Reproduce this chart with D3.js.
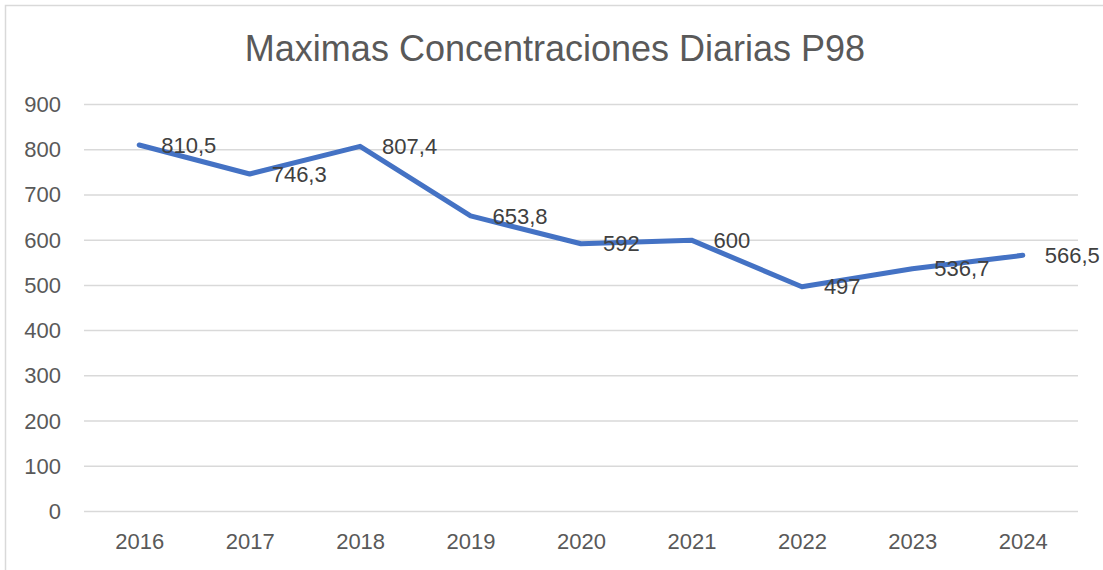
<!DOCTYPE html>
<html>
<head>
<meta charset="utf-8">
<script src="https://cdn.jsdelivr.net/npm/d3@7"></script>
<style>
  body { margin: 0; background: #fff; }
  text { font-family: "Liberation Sans", Arial, sans-serif; }
</style>
</head>
<body>
<div id="chart"></div>
<script>
// Data
var years = ["2016", "2017", "2018", "2019", "2020", "2021", "2022", "2023", "2024"];
var values = [810.5, 746.3, 807.4, 653.8, 592, 600, 497, 536.7, 566.5];
var yTicks = [0, 100, 200, 300, 400, 500, 600, 700, 800, 900];

var W = 1103, H = 570;
var margin = {top: 104.5, right: 25, bottom: 58.5, left: 84},
    width = W - margin.left - margin.right,
    height = H - margin.top - margin.bottom;

var svg = d3.select("#chart").append("svg")
    .attr("width", W)
    .attr("height", H);

// chart border
svg.append("rect")
    .attr("x", 5.5).attr("y", 5.5)
    .attr("width", W).attr("height", H)
    .attr("fill", "none")
    .attr("stroke", "#d9d9d9")
    .attr("stroke-width", 1.5);

// title
svg.append("text")
    .attr("x", 555).attr("y", 61)
    .attr("text-anchor", "middle")
    .style("font-size", "36px")
    .style("fill", "#595959")
    .text("Maximas Concentraciones Diarias P98");

var g = svg.append("g")
    .attr("transform", "translate(" + margin.left + "," + margin.top + ")");

var x = d3.scalePoint()
    .domain(years)
    .range([0, width])
    .padding(0.5);

var y = d3.scaleLinear()
    .domain([0, 900])
    .range([height, 0]);

// gridlines
g.selectAll(".grid")
    .data(yTicks)
    .enter().append("line")
    .attr("x1", 0).attr("x2", width)
    .attr("y1", d => y(d)).attr("y2", d => y(d))
    .attr("stroke", "#d9d9d9")
    .attr("stroke-width", 1.5);

// y axis labels
var yAxis = g.append("g")
    .call(d3.axisLeft(y).tickValues(yTicks).tickSize(0).tickPadding(23));
yAxis.select(".domain").remove();
yAxis.selectAll("text")
    .style("font-size", "22px")
    .style("fill", "#595959")
    .attr("font-family", null);

// x axis labels
var xAxis = g.append("g")
    .attr("transform", "translate(0," + height + ")")
    .call(d3.axisBottom(x).tickSize(0).tickPadding(22));
xAxis.select(".domain").remove();
xAxis.selectAll("text")
    .style("font-size", "22px")
    .style("fill", "#595959")
    .attr("font-family", null);

// line
var line = d3.line()
    .x((d, i) => x(years[i]))
    .y(d => y(d));

g.append("path")
    .datum(values)
    .attr("d", line)
    .attr("fill", "none")
    .attr("stroke", "#4472C4")
    .attr("stroke-width", 5)
    .attr("stroke-linejoin", "round")
    .attr("stroke-linecap", "round");

// data labels (right of point)
var fmt = d => String(d).replace(".", ",");
g.selectAll(".lbl")
    .data(values)
    .enter().append("text")
    .attr("x", (d, i) => x(years[i]) + 22)
    .attr("y", d => y(d))
    .attr("dy", "0.35em")
    .style("font-size", "22px")
    .style("fill", "#404040")
    .text(fmt);
</script>
</body>
</html>
